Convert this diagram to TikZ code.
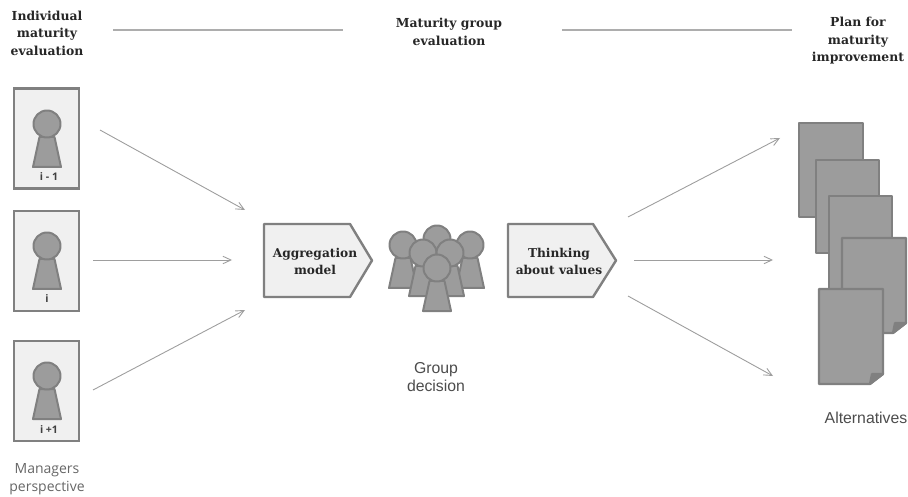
\documentclass[tikz,border=0pt]{standalone}
\usepackage{fontspec}
\setmainfont{Liberation Sans}
\newfontfamily\headfont{DejaVu Serif}
\newfontfamily\tagfont{Open Sans}
\usetikzlibrary{arrows.meta}
\definecolor{edgegray}{gray}{0.50}
\definecolor{bodygray}{gray}{0.61}
\definecolor{cardfill}{gray}{0.94}
\definecolor{linegray}{gray}{0.62}
\tikzset{
  card/.style={draw=edgegray,fill=cardfill,line width=2.4pt,minimum width=65pt,minimum height=100pt,inner sep=0pt},
  doc/.style={draw=edgegray,fill=bodygray,line width=2.2pt,line join=round},
  fig/.style={draw=edgegray,fill=bodygray,line width=2pt,line join=round},
  flow/.style={draw=edgegray,fill=cardfill,line width=2.4pt,line join=round},
  conn/.style={draw=linegray,line width=0.9pt,-{Straight Barb[length=8pt,width=10pt,angle'=50]}},
  rule/.style={draw=linegray!85,line width=1.1pt},
  head/.style={font=\headfont\bfseries\fontsize{12.4}{17.5}\selectfont,align=center,text=black!85},
  flowtext/.style={font=\headfont\bfseries\fontsize{12.2}{17}\selectfont,align=center,text=black!85},
  plain/.style={font=\fontsize{15.8}{18}\selectfont,align=center,text=black!70},
  side/.style={font=\tagfont\fontsize{14}{18}\selectfont,align=center,text=black!60},
  tag/.style={font=\tagfont\bfseries\fontsize{10.5}{12}\selectfont,text=black!75,inner sep=0pt},
  person/.pic={
    \path[fig] (-7.5,13) -- (7.5,13) -- (14,43) -- (-14,43) -- cycle;
    \path[fig] (0,0) circle (13.5);
  }
}
\begin{document}
\begin{tikzpicture}[x=1pt,y=-1pt]
\useasboundingbox (0,0) rectangle (908,497);
% headings
\node[head] (h1) at (47,33) {Individual\\maturity\\evaluation};
\node[head] (h2) at (449,32) {Maturity group\\evaluation};
\node[head] (h3) at (858,41) {Plan for\\maturity\\improvement};
\coordinate (r1a) at (113,30); \coordinate (r1b) at (343,30);
\coordinate (r2a) at (562,30); \coordinate (r2b) at (792,30);
\draw[rule] (r1a) -- (r1b);
\draw[rule] (r2a) -- (r2b);
% manager cards
\node[card] (c1) at (46.5,138.5) {};
\node[card] (c2) at (46.5,261) {};
\node[card] (c3) at (46.5,391) {};
\pic at (47,124) {person};
\pic at (47,246) {person};
\pic at (47,376) {person};
\node[tag] (t1) at (49,177) {i - 1};
\node[tag] (t2) at (47,299) {i};
\node[tag] (t3) at (49,430) {i +1};
\node[side] (mp) at (47,479) {Managers\\perspective};
% flow shapes
\path[flow] (264,224) -- (350,224) -- (372,260.5) -- (350,297) -- (264,297) -- cycle;
\path[flow] (508,224) -- (593,224) -- (616,260.5) -- (593,297) -- (508,297) -- cycle;
\node[flowtext] (agg) at (315,261) {Aggregation\\model};
\node[flowtext] (thi) at (559,261) {Thinking\\about values};
% group
\pic at (403,245) {person};
\pic at (470,245) {person};
\pic at (437,239) {person};
\pic at (423,253) {person};
\pic at (450,253) {person};
\pic at (437,268) {person};
\node[plain] (gd) at (436,377) {Group\\decision};
% documents
\path[doc] (799,123) rectangle (863,217);
\path[doc] (816,160) rectangle (879,253);
\path[doc] (829,196) rectangle (892,296);
\path[doc] (842,238) -- (906,238) -- (906,323) -- (893,333) -- (842,333) -- cycle;
\path[doc,fill=edgegray] (906,323) -- (895,323) -- (893,333) -- cycle;
\path[doc] (819,289) -- (883,289) -- (883,374) -- (870,384) -- (819,384) -- cycle;
\path[doc,fill=edgegray] (883,374) -- (872,374) -- (870,384) -- cycle;
\node[plain] (alt) at (866,418) {Alternatives};
% connectors
\coordinate (a1s) at (100,130); \coordinate (a1e) at (245,210);
\coordinate (a2s) at (93,260);  \coordinate (a2e) at (232,260);
\coordinate (a3s) at (93,390);  \coordinate (a3e) at (245,310);
\coordinate (b1s) at (628,217); \coordinate (b1e) at (780,138);
\coordinate (b2s) at (634,260); \coordinate (b2e) at (773,260);
\coordinate (b3s) at (628,296); \coordinate (b3e) at (773,376);
\draw[conn] (a1s) -- (a1e);
\draw[conn] (a2s) -- (a2e);
\draw[conn] (a3s) -- (a3e);
\draw[conn] (b1s) -- (b1e);
\draw[conn] (b2s) -- (b2e);
\draw[conn] (b3s) -- (b3e);
\end{tikzpicture}
\end{document}
